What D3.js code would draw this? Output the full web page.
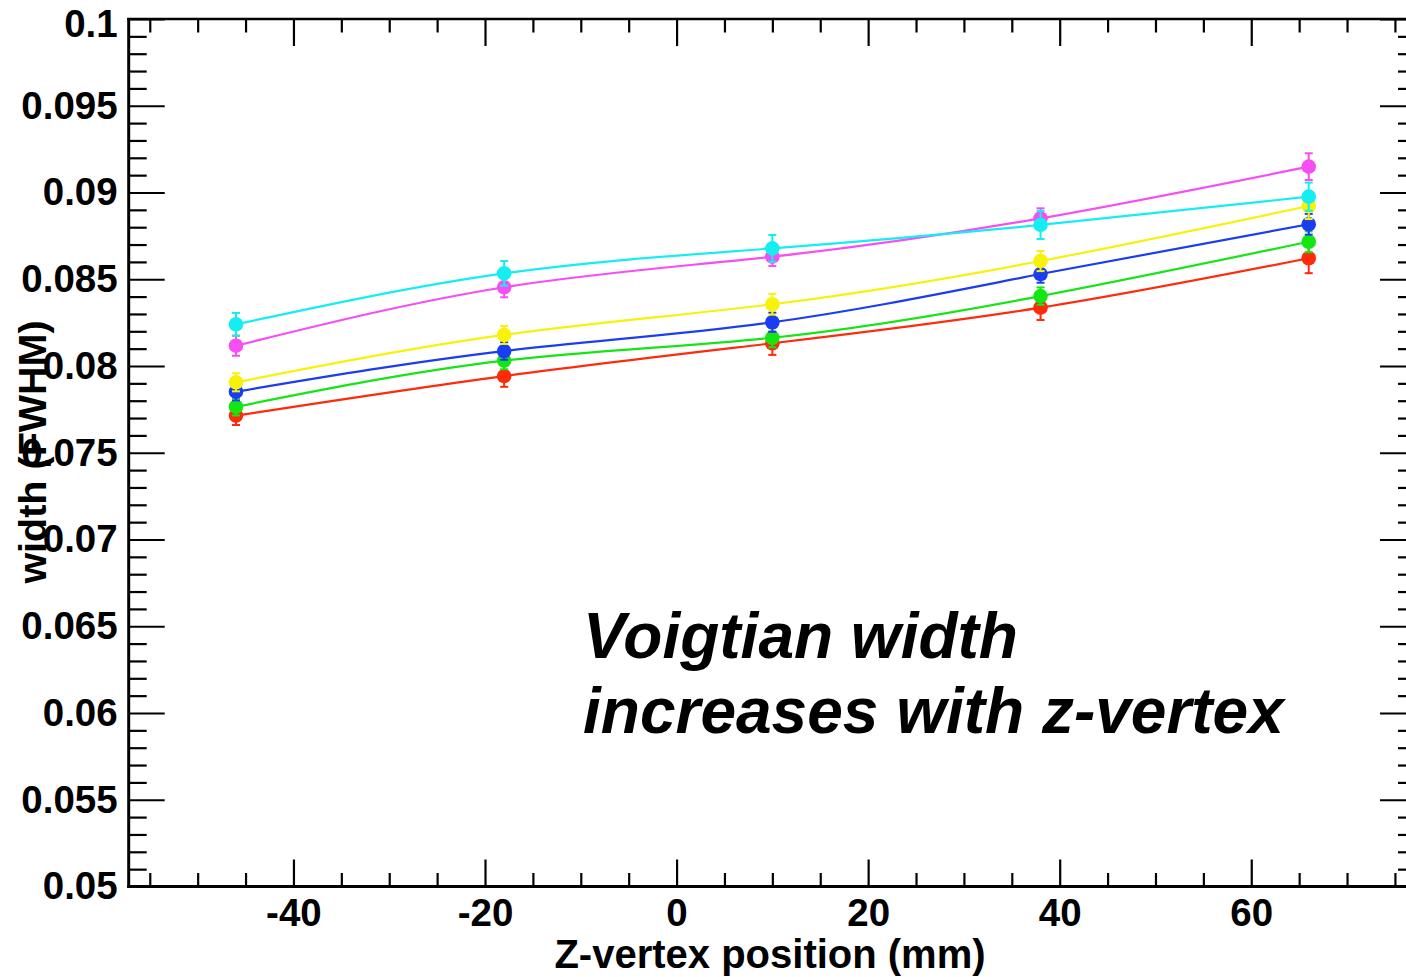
<!DOCTYPE html>
<html>
<head>
<meta charset="utf-8">
<script src="https://cdn.jsdelivr.net/npm/d3@7"></script>
<style>
  html, body { margin: 0; padding: 0; background: #fff; }
  svg { display: block; }
  text { font-family: "Liberation Sans", Arial, Helvetica, sans-serif; }
</style>
</head>
<body>
<svg id="chart" width="1406" height="977"></svg>
<script>
// ---- data ----
const zPositions = [-46, -18, 10, 38, 66];

const seriesNames = ["red", "green", "blue", "yellow", "magenta", "cyan"];
const seriesColors = ["#ff2a0a", "#14e614", "#1a3cf2", "#f6f20a", "#f54ef5", "#14eef0"];

const redValues     = [0.07714, 0.07942, 0.08131, 0.08336, 0.08621];
const greenValues   = [0.07765, 0.08031, 0.08163, 0.08403, 0.08716];
const blueValues    = [0.07852, 0.08086, 0.08252, 0.08530, 0.08817];
const yellowValues  = [0.07906, 0.08179, 0.08356, 0.08605, 0.08922];
const magentaValues = [0.08117, 0.08454, 0.08630, 0.08851, 0.09149];
const cyanValues    = [0.08240, 0.08534, 0.08678, 0.08813, 0.08976];

const redErrors     = [0.00054, 0.00062, 0.00067, 0.00071, 0.00086];
const greenErrors   = [0.00050, 0.00050, 0.00055, 0.00050, 0.00060];
const blueErrors    = [0.00050, 0.00050, 0.00055, 0.00050, 0.00060];
const yellowErrors  = [0.00052, 0.00052, 0.00060, 0.00058, 0.00075];
const magentaErrors = [0.00058, 0.00058, 0.00054, 0.00058, 0.00077];
const cyanErrors    = [0.00066, 0.00071, 0.00077, 0.00081, 0.00081];

const xTickValues = [-40, -20, 0, 20, 40, 60];
const xTickLabels = ["-40", "-20", "0", "20", "40", "60"];
const yTickValues = [0.05, 0.055, 0.06, 0.065, 0.07, 0.075, 0.08, 0.085, 0.09, 0.095, 0.1];
const yTickLabels = ["0.05", "0.055", "0.06", "0.065", "0.07", "0.075", "0.08", "0.085", "0.09", "0.095", "0.1"];

const xTitle = "Z-vertex position (mm)";
const yTitle = "width (FWHM)";
const noteLines = ["Voigtian width", "increases with z-vertex"];

const allValues = [redValues, greenValues, blueValues, yellowValues, magentaValues, cyanValues];
const allErrors = [redErrors, greenErrors, blueErrors, yellowErrors, magentaErrors, cyanErrors];

// ---- layout ----
const svg = d3.select("#chart");
const L = 128.7, R = 1416, T = 19, B = 886.5;

const x = d3.scaleLinear().domain([-57.2, 77.2]).range([L, R]);
const y = d3.scaleLinear().domain([0.05, 0.1]).range([B, T]);

const xMinor = d3.range(-55, 77, 5).filter(v => v % 20 !== 0);
const yMinor = d3.range(50, 101, 1).map(v => v / 1000).filter(v => Math.round(v * 1000) % 5 !== 0);

const tickFont = 38.5;

// bottom axis
const gB = svg.append("g").attr("transform", `translate(0,${B})`);
gB.call(d3.axisBottom(x).tickValues(xMinor).tickSizeInner(-13.5).tickSizeOuter(0).tickFormat(""));
gB.call(g => g.select(".domain").remove());
const gB2 = svg.append("g").attr("transform", `translate(0,${B})`);
gB2.call(d3.axisBottom(x).tickValues(xTickValues).tickSizeInner(-27).tickSizeOuter(0).tickPadding(12.5)
  .tickFormat((d, i) => xTickLabels[i]));
gB2.select(".domain").remove();

// top axis
const gT = svg.append("g").attr("transform", `translate(0,${T})`);
gT.call(d3.axisTop(x).tickValues(xMinor).tickSizeInner(-13.5).tickSizeOuter(0).tickFormat(""));
gT.select(".domain").remove();
const gT2 = svg.append("g").attr("transform", `translate(0,${T})`);
gT2.call(d3.axisTop(x).tickValues(xTickValues).tickSizeInner(-27).tickSizeOuter(0).tickFormat(""));
gT2.select(".domain").remove();

// left axis
const gL = svg.append("g").attr("transform", `translate(${L},0)`);
gL.call(d3.axisLeft(y).tickValues(yMinor).tickSizeInner(-18).tickSizeOuter(0).tickFormat(""));
gL.select(".domain").remove();
const gL2 = svg.append("g").attr("transform", `translate(${L},0)`);
gL2.call(d3.axisLeft(y).tickValues(yTickValues).tickSizeInner(-36).tickSizeOuter(0).tickPadding(11)
  .tickFormat((d, i) => yTickLabels[i]));
gL2.select(".domain").remove();
// top label is pushed down so it stays inside the picture
gL2.selectAll(".tick text").filter(d => d === 0.1).attr("dy", "0.45em");

// right axis
const gR = svg.append("g").attr("transform", `translate(${R},0)`);
gR.call(d3.axisRight(y).tickValues(yMinor).tickSizeInner(-18).tickSizeOuter(0).tickFormat(""));
gR.select(".domain").remove();
const gR2 = svg.append("g").attr("transform", `translate(${R},0)`);
gR2.call(d3.axisRight(y).tickValues(yTickValues).tickSizeInner(-36).tickSizeOuter(0).tickFormat(""));
gR2.select(".domain").remove();

svg.selectAll(".tick line").attr("stroke", "#000").attr("stroke-width", 2.2);
svg.selectAll(".tick text")
  .attr("fill", "#000")
  .style("font-size", tickFont + "px")
  .style("font-weight", "bold");

// frame
svg.append("line").attr("x1", L).attr("x2", L).attr("y1", T - 1).attr("y2", B + 1.5)
  .attr("stroke", "#000").attr("stroke-width", 3);
svg.append("line").attr("x1", L - 1.5).attr("x2", R).attr("y1", B).attr("y2", B)
  .attr("stroke", "#000").attr("stroke-width", 3.2);
svg.append("line").attr("x1", L - 1.5).attr("x2", R).attr("y1", T).attr("y2", T)
  .attr("stroke", "#000").attr("stroke-width", 2.5);
svg.append("line").attr("x1", R).attr("x2", R).attr("y1", T).attr("y2", B)
  .attr("stroke", "#000").attr("stroke-width", 3);

// series
const line = d3.line().x(d => x(d.z)).y(d => y(d.v)).curve(d3.curveNatural);

seriesNames.forEach((name, si) => {
  const pts = zPositions.map((z, i) => ({ z, v: allValues[si][i], e: allErrors[si][i] }));
  const col = seriesColors[si];
  const g = svg.append("g").attr("class", "series-" + name);
  g.append("path").datum(pts).attr("d", line)
    .attr("fill", "none").attr("stroke", col).attr("stroke-width", 2.2);
  // error bars
  g.selectAll("line.err").data(pts).enter().append("line").attr("class", "err")
    .attr("x1", d => x(d.z)).attr("x2", d => x(d.z))
    .attr("y1", d => y(d.v - d.e)).attr("y2", d => y(d.v + d.e))
    .attr("stroke", col).attr("stroke-width", 2);
  g.selectAll("line.capt").data(pts).enter().append("line").attr("class", "capt")
    .attr("x1", d => x(d.z) - 4).attr("x2", d => x(d.z) + 4)
    .attr("y1", d => y(d.v + d.e)).attr("y2", d => y(d.v + d.e))
    .attr("stroke", col).attr("stroke-width", 2);
  g.selectAll("line.capb").data(pts).enter().append("line").attr("class", "capb")
    .attr("x1", d => x(d.z) - 4).attr("x2", d => x(d.z) + 4)
    .attr("y1", d => y(d.v - d.e)).attr("y2", d => y(d.v - d.e))
    .attr("stroke", col).attr("stroke-width", 2);
  g.selectAll("circle").data(pts).enter().append("circle")
    .attr("cx", d => x(d.z)).attr("cy", d => y(d.v)).attr("r", 7.3)
    .attr("fill", col);
});

// axis titles
svg.append("text")
  .attr("x", 770).attr("y", 968)
  .attr("text-anchor", "middle")
  .style("font-size", "40px").style("font-weight", "bold")
  .text(xTitle);

svg.append("text")
  .attr("transform", "translate(46,452) rotate(-90)")
  .attr("text-anchor", "middle")
  .style("font-size", "39.5px").style("font-weight", "bold")
  .text(yTitle);

// annotation
noteLines.forEach((t, i) => {
  svg.append("text")
    .attr("x", 583).attr("y", 658 + i * 75)
    .style("font-size", "64px").style("font-weight", "bold").style("font-style", "italic")
    .text(t);
});
</script>
</body>
</html>
